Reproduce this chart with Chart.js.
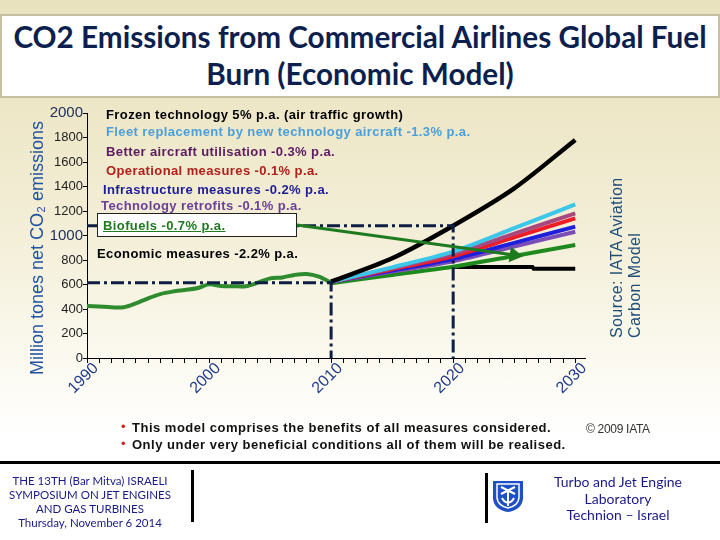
<!DOCTYPE html>
<html>
<head>
<meta charset="utf-8">
<script src="https://cdn.jsdelivr.net/npm/chart.js@4.4.1/dist/chart.umd.min.js"></script>
<style>
  html, body { margin: 0; padding: 0; }
  body {
    width: 720px; height: 540px; position: relative; overflow: hidden;
    background: linear-gradient(to bottom, #E9E2BE 0px, #E9E2BE 14px, #EDE6C6 98px, #F3EED7 230px, #FAF8EC 340px, #FFFFFF 440px, #FFFFFF 540px);
    font-family: "Liberation Sans", Arial, sans-serif;
  }
  #wrap { position: absolute; left: 0; top: 0; width: 720px; height: 540px; z-index: 1; }
  .t { position: absolute; white-space: nowrap; z-index: 2; }
  #titlebox {
    position: absolute; left: 0; top: 14px; width: 720px; height: 84px; box-sizing: border-box;
    background: #fff; border: 2px solid #C6BFA2; z-index: 2;
    font-family: Lato, "Open Sans", sans-serif; font-weight: 700; color: #0C1F4E;
    font-size: 29.7px; line-height: 37px; text-align: center; padding-top: 2px;
  }
  .ann { font-weight: 700; font-size: 13px; line-height: 16px; letter-spacing: 0.4px; }
  #bio {
    position: absolute; left: 97px; top: 213px; width: 200px; height: 24px; box-sizing: border-box;
    background: #fff; border: 1px solid #222; z-index: 2;
  }
  #ytitle {
    position: absolute; left: 26px; top: 110px; width: 22px; height: 275px;
    writing-mode: vertical-rl; transform: rotate(180deg); text-align: center;
    font-size: 18px; line-height: 22px; color: #2153A3; white-space: nowrap; z-index: 2;
  }
  #source {
    position: absolute; left: 608px; top: 160px; width: 36px; height: 178px;
    writing-mode: vertical-rl; transform: rotate(180deg); text-align: start;
    font-size: 16px; line-height: 18px; color: #1F4E79; white-space: nowrap; letter-spacing: 0.4px; z-index: 2;
  }
  .bul { font-weight: 700; font-size: 13px; line-height: 16px; color: #111; letter-spacing: 0.5px; }
  .dot { color: #E0201C; font-size: 13px; }
  #hline { position: absolute; left: 0; top: 461px; width: 720px; height: 3px; background: #000; z-index: 2; }
  .vbar { position: absolute; width: 3px; background: #000; z-index: 2; }
  .foot { font-family: Lato, "Open Sans", sans-serif; color: #1A1A86; text-align: center; }
</style>
</head>
<body>
<div id="wrap"><canvas id="c" width="720" height="540"></canvas></div>

<div id="titlebox">CO2 Emissions from Commercial Airlines Global Fuel<br>Burn (Economic Model)</div>

<div id="ytitle">Million tones net CO₂ emissions</div>
<div id="source">Source: IATA Aviation<br>Carbon Model</div>

<div class="t ann" style="left:106px; top:107px; color:#000;">Frozen technology 5% p.a. (air traffic growth)</div>
<div class="t ann" style="left:106px; top:124px; color:#4C9FDA;">Fleet replacement by new technology aircraft -1.3% p.a.</div>
<div class="t ann" style="left:106px; top:144px; color:#5B1B5E;">Better aircraft utilisation -0.3% p.a.</div>
<div class="t ann" style="left:106px; top:163px; color:#B0201C;">Operational measures -0.1% p.a.</div>
<div class="t ann" style="left:103px; top:182px; color:#1C1C9C;">Infrastructure measures -0.2% p.a.</div>
<div class="t ann" style="left:101px; top:198px; color:#6B3F98;">Technology retrofits -0.1% p.a.</div>
<div id="bio"></div>
<div class="t ann" style="left:103px; top:218px; color:#1F7A1F; text-decoration: underline;">Biofuels -0.7% p.a.</div>
<div class="t ann" style="left:97px; top:246px; color:#000;">Economic measures -2.2% p.a.</div>

<div class="t dot" style="left:121px; top:419px;">•</div>
<div class="t bul" style="left:132px; top:420px;">This model comprises the benefits of all measures considered.</div>
<div class="t dot" style="left:121px; top:436px;">•</div>
<div class="t bul" style="left:132px; top:437px;">Only under very beneficial conditions all of them will be realised.</div>
<div class="t" style="left:586px; top:422px; font-size:12px; line-height:14px; color:#333; letter-spacing:-0.3px;">© 2009 IATA</div>

<div id="hline"></div>
<div class="t foot" style="left:0px; top:474px; width:180px; font-size:11.5px; line-height:14px;">THE 13TH (Bar Mitva) ISRAELI<br>SYMPOSIUM ON JET ENGINES<br>AND GAS TURBINES<br>Thursday, November 6 2014</div>
<div class="vbar" style="left:191px; top:470px; height:52px;"></div>
<div class="vbar" style="left:485px; top:473px; height:50px;"></div>
<svg class="t" style="left:492px; top:480px;" width="32" height="33" viewBox="0 0 32 33">
  <path d="M1 1 H31 V18 C31 26 24 31 16 32 C8 31 1 26 1 18 Z" fill="#1F4FC4"/>
  <path d="M5 4 H27 V17 C27 23 22 27 16 28 C10 27 5 23 5 17 Z" fill="none" stroke="#fff" stroke-width="1.5"/>
  <path d="M9 7 L23 14 M23 7 L9 14 M10 18 C13 24 19 24 22 18 M16 10 V26" stroke="#fff" stroke-width="2" fill="none"/>
</svg>
<div class="t foot" style="left:538px; top:474px; width:160px; font-size:14px; line-height:16.5px;">Turbo and Jet Engine<br>Laboratory<br>Technion – Israel</div>

<script>
// ---------- data ----------
const histYears  = [1990,1991,1992,1993,1994,1995,1996,1997,1998,1999,2000,2001,2002,2003,2004,2005,2006,2007,2008,2009,2010];
const histValues = [425, 420, 414, 414, 446, 487, 522, 542, 555, 569, 601, 588, 586, 586, 615, 650, 658, 678, 686, 664, 615];

const futureYears     = [2010, 2015, 2020, 2025, 2030];
const frozenValues    = [623, 814, 1080, 1385, 1780];
const fleetValues     = [623, 740, 868, 1060, 1254];
const utilValues      = [623, 733, 850, 1015, 1181];
const operValues      = [623, 725, 830, 985, 1140];
const infraValues     = [623, 715, 808, 940, 1072];
const retrofitValues  = [623, 705, 790, 910, 1031];
const biofuelValues   = [610, 678, 745, 833, 922];

const econYears  = [2020, 2026.5, 2026.6, 2030];
const econValues = [742, 742, 728, 728];

const arrowYears  = [2007.2, 2025];
const arrowValues = [1085, 840];

const guide2020Years  = [1990, 2020, 2020];
const guide2020Values = [1080, 1080, 0];
const guide2010Years  = [1990, 2010, 2010];
const guide2010Values = [615, 615, 0];

const xTickYears  = [1990,1991,1992,1993,1994,1995,1996,1997,1998,1999,2000,2001,2002,2003,2004,2005,2006,2007,2008,2009,2010,2011,2012,2013,2014,2015,2016,2017,2018,2019,2020,2021,2022,2023,2024,2025,2026,2027,2028,2029,2030];
const xLabelYears = [1990, 2000, 2010, 2020, 2030];
const yTickValues = [0,200,400,600,800,1000,1200,1400,1600,1800,2000];
const yBigTicks   = [1000, 2000];

// ---------- helpers ----------
const pts = (xs, ys) => xs.map((x, i) => ({ x: x, y: ys[i] }));
const line = (label, xs, ys, color, width, extra) => Object.assign({
  label: label, data: pts(xs, ys), borderColor: color, backgroundColor: color,
  borderWidth: width, pointRadius: 0, fill: false, tension: 0.25, clip: false
}, extra || {});

const dashPattern = [13, 4, 3, 4];
const guideColor = '#0E1E44';

const datasets = [
  line('Biofuels arrow', arrowYears, arrowValues, '#1E7A1E', 3, {
    tension: 0, pointRadius: [0, 6], pointStyle: 'triangle', rotation: [0, 98],
    pointBackgroundColor: '#1E7A1E', pointBorderColor: '#1E7A1E'
  }),
  line('Guide 2020', guide2020Years, guide2020Values, guideColor, 3, { tension: 0, borderDash: dashPattern }),
  line('Guide 2010', guide2010Years, guide2010Values, guideColor, 3, { tension: 0, borderDash: dashPattern }),
  line('Frozen technology', futureYears, frozenValues, '#000000', 4.5, { tension: 0.3 }),
  line('Fleet replacement', futureYears, fleetValues, '#3CC6EA', 4),
  line('Better aircraft utilisation', futureYears, utilValues, '#A8487E', 4),
  line('Operational measures', futureYears, operValues, '#EE1C24', 4),
  line('Infrastructure measures', futureYears, infraValues, '#1E1EDC', 4),
  line('Technology retrofits', futureYears, retrofitValues, '#7A4CB8', 4),
  line('Biofuels', futureYears, biofuelValues, '#1E8A1E', 4),
  line('Economic measures', econYears, econValues, '#000000', 4, { tension: 0 }),
  line('Historic', histYears, histValues, '#2E8B2E', 4, { tension: 0.3 })
];

const ctx = document.getElementById('c').getContext('2d');
new Chart(ctx, {
  type: 'line',
  data: { datasets: datasets },
  options: {
    responsive: false,
    animation: false,
    events: [],
    layout: { padding: { left: 22, top: 113, right: 135, bottom: 142 } },
    plugins: { legend: { display: false }, tooltip: { enabled: false }, title: { display: false } },
    scales: {
      x: {
        type: 'linear', min: 1990, max: 2030.8,
        afterBuildTicks: (s) => { s.ticks = xTickYears.map(v => ({ value: v })); },
        afterFit: (s) => { s.height = 40; s.paddingLeft = 0; s.paddingRight = 0; },
        border: { display: true, color: '#000', width: 1 },
        grid: { drawOnChartArea: false, drawTicks: true, tickLength: 5, color: '#000', lineWidth: 1 },
        ticks: {
          autoSkip: false, maxRotation: 45, minRotation: 45, padding: -4, labelOffset: 9,
          color: '#1F3A8A', font: { family: 'Liberation Sans, Arial', size: 16 },
          callback: (v) => xLabelYears.includes(v) ? String(v) : ''
        }
      },
      y: {
        type: 'linear', min: 0, max: 2000,
        afterBuildTicks: (s) => { s.ticks = yTickValues.map(v => ({ value: v })); },
        afterFit: (s) => { s.width = 65; s.paddingTop = 0; s.paddingBottom = 0; },
        border: { display: true, color: '#000', width: 1 },
        grid: { drawOnChartArea: false, drawTicks: true, tickLength: 4, color: '#000', lineWidth: 1 },
        ticks: {
          padding: 0,
          color: (c) => (c.tick && yBigTicks.includes(c.tick.value)) ? '#22305A' : '#222',
          font: (c) => ({ family: 'Liberation Sans, Arial', size: (c.tick && yBigTicks.includes(c.tick.value)) ? 15 : 13 }),
          callback: (v) => String(v)
        }
      }
    }
  }
});
</script>
</body>
</html>
